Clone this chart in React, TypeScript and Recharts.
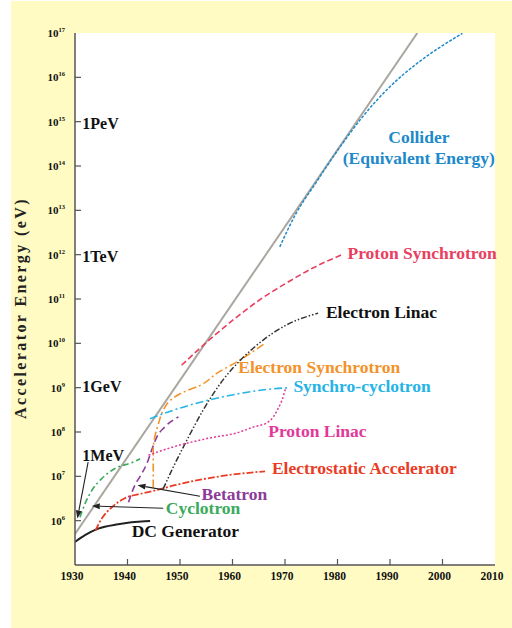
import React from 'react';
import { LineChart, Line, XAxis, YAxis, CartesianGrid, ReferenceDot, ReferenceLine } from 'recharts';

// Livingston plot: accelerator energy (eV) vs year, log scale
const YEAR_TICKS = [1930, 1940, 1950, 1960, 1970, 1980, 1990, 2000, 2010];
const ENERGY_TICKS = [1e6, 1e7, 1e8, 1e9, 1e10, 1e11, 1e12, 1e13, 1e14, 1e15, 1e16, 1e17];

const envelope = [[1930, 5.0e5], [1995.2, 1e17]];
const dcGenerator = [[1930, 3.3e5], [1931.9, 4.7e5], [1934.4, 6.6e5], [1938.2, 8.3e5], [1943.3, 9.7e5], [1944.3, 9.8e5]];
const cyclotron = [[1930.95, 1.2e6], [1931.9, 2.4e6], [1933.2, 4.8e6], [1935.1, 8.9e6], [1937.6, 1.5e7], [1941.1, 2.1e7], [1942.4, 2.5e7]];
const electrostatic = [[1933.9, 6.0e5], [1935.1, 1.12e6], [1937.0, 2.0e6], [1939.5, 3.2e6], [1942.7, 4.1e6], [1945.9, 5.0e6], [1949.0, 6.3e6], [1957.6, 1.0e7], [1966.2, 1.3e7]];
const betatron = [[1940.2, 2.6e6], [1941.4, 6.3e6], [1942.4, 1.0e7], [1943.7, 1.95e7], [1944.6, 3.9e7], [1945.6, 7.8e7], [1947.1, 1.3e8], [1949.7, 2.2e8]];
const electronSynchrotron = [[1944.9, 5.6e6], [1944.9, 3.9e7], [1945.2, 7.8e7], [1945.9, 1.55e8], [1946.8, 3.1e8], [1948.1, 5.1e8], [1950.6, 7.9e8], [1953.8, 1.12e9], [1957.0, 2.1e9], [1961.4, 4.2e9], [1966.2, 1.0e10]];
const electronLinac = [[1946.8, 5.2e6], [1948.7, 1.6e7], [1951.3, 6.5e7], [1954.4, 3.1e8], [1958.2, 1.5e9], [1962.1, 4.9e9], [1965.9, 1.2e10], [1970.3, 2.6e10], [1976.3, 4.8e10]];
const synchroCyclotron = [[1944.3, 2.0e8], [1948.7, 3.1e8], [1955.1, 5.1e8], [1961.4, 7.4e8], [1966.5, 9.1e8], [1971.0, 1.0e9]];
const protonLinac = [[1944.0, 3.0e7], [1948.7, 4.6e7], [1955.1, 7.1e7], [1961.4, 1.0e8], [1964.0, 1.3e8], [1966.5, 1.6e8], [1967.8, 2.2e8], [1968.7, 3.4e8], [1969.4, 5.1e8], [1970.1, 9.5e8]];
const protonSynchrotron = [[1950.3, 3.2e9], [1955.3, 1.12e10], [1960.3, 3.5e10], [1965.3, 9.8e10], [1970.3, 2.3e11], [1975.3, 5.0e11], [1980.7, 9.8e11]];
const collider = [[1969.0, 1.5e12], [1972.1, 8.5e12], [1975.9, 4.2e13], [1980.3, 2.5e14], [1984.8, 1.3e15], [1989.9, 6.0e15], [1995.0, 2.0e16], [2000.0, 5.2e16], [2003.8, 9.8e16]];

const SERIES = [
  { name: 'envelope', pts: envelope, color: '#aaa69f', width: 2, dash: undefined, curve: 'linear' },
  { name: 'DC Generator', pts: dcGenerator, color: '#222', width: 2, dash: undefined, curve: 'monotone' },
  { name: 'Cyclotron', pts: cyclotron, color: '#3aaa5c', width: 1.6, dash: '6 3 2 3', curve: 'monotone' },
  { name: 'Electrostatic Accelerator', pts: electrostatic, color: '#ea3b24', width: 1.8, dash: '7 2 2 2', curve: 'monotone' },
  { name: 'Betatron', pts: betatron, color: '#8b3c98', width: 1.6, dash: '7 4', curve: 'monotone' },
  { name: 'Electron Synchrotron', pts: electronSynchrotron, color: '#f4922a', width: 1.6, dash: '8 3 2 3', curve: 'monotoneY' },
  { name: 'Electron Linac', pts: electronLinac, color: '#333', width: 1.5, dash: '6 2 1.5 2 1.5 2', curve: 'monotone' },
  { name: 'Synchro-cyclotron', pts: synchroCyclotron, color: '#25b4e6', width: 1.6, dash: '8 3 2 3', curve: 'monotone' },
  { name: 'Proton Linac', pts: protonLinac, color: '#e0399a', width: 1.5, dash: '2 2', curve: 'monotone' },
  { name: 'Proton Synchrotron', pts: protonSynchrotron, color: '#e8405f', width: 1.6, dash: '6 3', curve: 'monotone' },
  { name: 'Collider', pts: collider, color: '#2089c9', width: 1.5, dash: '3 1.5', curve: 'monotone' },
];

// text annotations: [text, year, energy, colour, anchor]
const NOTES: [string, number, number, string, string][] = [
  ['Collider', 1995.5, 3.3e14, '#2089c9', 'middle'],
  ['(Equivalent Energy)', 1995.5, 1.12e14, '#2089c9', 'middle'],
  ['Proton Synchrotron', 1981.9, 8.1e11, '#e8405f', 'start'],
  ['Electron Linac', 1977.8, 3.8e10, '#111', 'start'],
  ['Electron Synchrotron', 1961.1, 2.1e9, '#f4922a', 'start'],
  ['Synchro-cyclotron', 1971.6, 8.1e8, '#25b4e6', 'start'],
  ['Proton Linac', 1966.8, 7.8e7, '#e0399a', 'start'],
  ['Electrostatic Accelerator', 1967.5, 1.12e7, '#ea3b24', 'start'],
  ['Betatron', 1954.1, 2.9e6, '#8b3c98', 'start'],
  ['Cyclotron', 1947.3, 1.38e6, '#3aaa5c', 'start'],
  ['DC Generator', 1940.8, 4.2e5, '#111', 'start'],
];

const UNITS: [string, number, number][] = [
  ['1PeV', 1931.4, 6.9e14],
  ['1TeV', 1931.4, 6.8e11],
  ['1GeV', 1931.4, 7.8e8],
  ['1MeV', 1931.4, 2.24e7],
];

// arrows: from (year, eV) to (year, eV)
const ARROWS: [number, number, number, number][] = [
  [1932.5, 2.1e7, 1930.45, 1.12e6],
  [1946.8, 1.9e6, 1933.2, 2.15e6],
  [1953.8, 3.55e6, 1941.9, 6.3e6],
];

const FONT = '"Liberation Serif", "Times New Roman", serif';

const toRows = (pts: number[][]) => pts.map(([x, y]) => ({ x, y }));

const LeftTick = (props: any) => {
  const { x, y, payload } = props;
  const e = Math.round(Math.log10(payload.value));
  return (
    <g>
      {e < 17 && <line x1={x} y1={y} x2={x + 6} y2={y} stroke="#555" strokeWidth={1.2} />}
      <text x={x - 10} y={y + 4} textAnchor="end" fontFamily={FONT} fontWeight="bold" fontSize={11} fill="#111">
        10<tspan fontSize={6.5} dy={-5}>{e}</tspan>
      </text>
    </g>
  );
};

const RightTick = (props: any) => {
  const { x, y, payload } = props;
  if (payload.value >= 1e17) return <g />;
  return <line x1={x} y1={y} x2={x - 6} y2={y} stroke="#555" strokeWidth={1.2} />;
};

const BottomTick = (props: any) => {
  const { x, y, payload } = props;
  const edge = payload.value === 1930 || payload.value === 2010;
  return (
    <g>
      {!edge && <line x1={x} y1={y} x2={x} y2={y - 6} stroke="#555" strokeWidth={1.2} />}
      <text x={x - 3} y={y + 15} textAnchor="middle" fontFamily={FONT} fontWeight="bold" fontSize={11.5} fill="#111">
        {payload.value}
      </text>
    </g>
  );
};

const TopTick = (props: any) => {
  const { x, y, payload } = props;
  if (payload.value === 1930 || payload.value === 2010) return <g />;
  return <line x1={x} y1={y} x2={x} y2={y + 6} stroke="#555" strokeWidth={1.2} />;
};

const AxisTitle = (props: any) => {
  const { viewBox } = props;
  const cx = viewBox.x + 15;
  const cy = viewBox.y + viewBox.height / 2 + 9;
  return (
    <text x={cx} y={cy} transform={`rotate(-90, ${cx}, ${cy})`} textAnchor="middle" fontFamily={FONT}
      fontWeight="bold" fontSize={16} letterSpacing={2.4} fill="#222">
      Accelerator Energy (eV)
    </text>
  );
};

const Arrow = (props: any) => {
  const { x1, y1, x2, y2 } = props;
  const dx = x2 - x1, dy = y2 - y1;
  const len = Math.hypot(dx, dy) || 1;
  const ux = dx / len, uy = dy / len;
  const bx = x2 - ux * 8, by = y2 - uy * 8;
  const head = `${x2},${y2} ${bx - uy * 3},${by + ux * 3} ${bx + uy * 3},${by - ux * 3}`;
  return (
    <g>
      <line x1={x1} y1={y1} x2={bx} y2={by} stroke="#222" strokeWidth={1.1} />
      <polygon points={head} fill="#222" />
    </g>
  );
};

export default function App() {
  return (
    <div style={{ position: 'absolute', left: 0, top: 0, width: 512, height: 628, background: '#fff' }}>
      <div style={{ position: 'absolute', left: 11, top: 1, width: 501, height: 627, background: '#fffbc2' }} />
      <div style={{ position: 'absolute', left: 0, top: 0 }}>
        <LineChart width={512} height={628} margin={{ top: 33, right: 17, bottom: 33, left: 11 }}>
          <CartesianGrid xAxisId="b" yAxisId="l" horizontal={false} vertical={false} fill="#fff" />
          <XAxis xAxisId="b" type="number" dataKey="x" domain={[1930, 2010]} ticks={YEAR_TICKS} height={30}
            allowDataOverflow tickLine={false} tickSize={0} tickMargin={0} interval={0}
            axisLine={{ stroke: '#555', strokeWidth: 1.5 }} tick={<BottomTick />} />
          <XAxis xAxisId="t" orientation="top" type="number" dataKey="x" domain={[1930, 2010]} ticks={YEAR_TICKS}
            height={0} allowDataOverflow tickLine={false} tickSize={0} tickMargin={0} interval={0}
            axisLine={{ stroke: '#555', strokeWidth: 1.5 }} tick={<TopTick />} />
          <YAxis yAxisId="l" scale="log" type="number" dataKey="y" domain={[1e5, 1e17]} ticks={ENERGY_TICKS} width={64}
            allowDataOverflow tickLine={false} tickSize={0} tickMargin={0} interval={0}
            axisLine={{ stroke: '#555', strokeWidth: 1.5 }} tick={<LeftTick />} label={<AxisTitle />} />
          <YAxis yAxisId="r" orientation="right" scale="log" type="number" dataKey="y" domain={[1e5, 1e17]}
            ticks={ENERGY_TICKS} width={0} allowDataOverflow tickLine={false} tickSize={0} tickMargin={0} interval={0}
            axisLine={{ stroke: '#555', strokeWidth: 1.5 }} tick={<RightTick />} />
          {SERIES.map((s) => (
            <Line key={s.name} xAxisId="b" yAxisId="l" data={toRows(s.pts)} dataKey="y" type={s.curve as any}
              stroke={s.color} strokeWidth={s.width} strokeDasharray={s.dash} dot={false}
              isAnimationActive={false} />
          ))}
          {ARROWS.map(([xa, ya, xb, yb], i) => (
            <ReferenceLine key={`a${i}`} xAxisId="b" yAxisId="l" ifOverflow="visible"
              segment={[{ x: xa, y: ya }, { x: xb, y: yb }]} shape={(p: any) => <Arrow {...p} />} />
          ))}
          {UNITS.map(([t, x, y]) => (
            <ReferenceDot key={t} xAxisId="b" yAxisId="l" x={x} y={y} r={0} ifOverflow="visible"
              shape={(p: any) => (
                <text x={p.cx} y={p.cy} fontFamily={FONT} fontWeight="bold" fontSize={16} fill="#111">{t}</text>
              )} />
          ))}
          {NOTES.map(([t, x, y, c, a]) => (
            <ReferenceDot key={t} xAxisId="b" yAxisId="l" x={x} y={y} r={0} ifOverflow="visible"
              shape={(p: any) => (
                <text x={p.cx} y={p.cy} textAnchor={a as any} fontFamily={FONT} fontWeight="bold" fontSize={17.5} fill={c}>{t}</text>
              )} />
          ))}
        </LineChart>
      </div>
    </div>
  );
}
